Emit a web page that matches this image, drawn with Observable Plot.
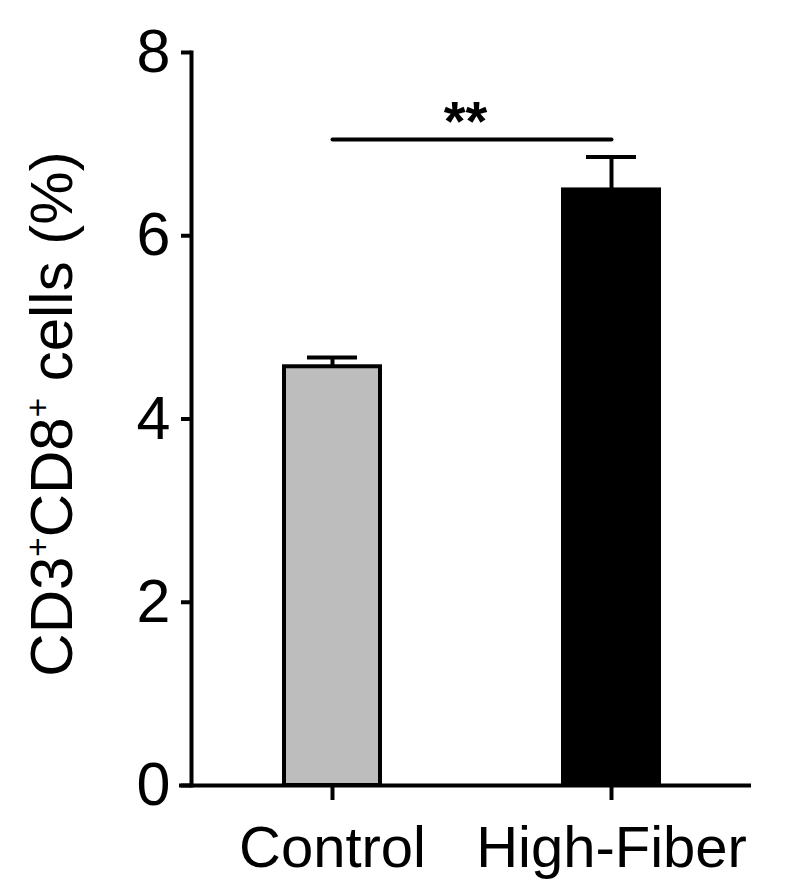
<!DOCTYPE html>
<html>
<head>
<meta charset="utf-8">
<script src="https://cdn.jsdelivr.net/npm/d3@7"></script>
<script src="https://cdn.jsdelivr.net/npm/@observablehq/plot@0.6"></script>
<style>
  html, body { margin: 0; padding: 0; background: #fff; }
  svg { display: block; overflow: visible; }
</style>
</head>
<body>
<div id="chart"></div>
<script>
const groups = ["Control", "High-Fiber"];
const means = [4.57, 6.50];
const sems = [0.10, 0.36];
const fills = ["#bdbdbd", "#000000"];
const yTicks = [0, 2, 4, 6, 8];
const sigValue = 7.05;
const sigLabel = "**";
const yLabel = "CD3+CD8+ cells (%)";

const data = groups.map((g, i) => ({group: g, mean: means[i], top: means[i] + sems[i], fill: fills[i]}));
const font = "'Liberation Sans', Arial, Helvetica, sans-serif";
const sw = 4;

const chart = Plot.plot({
  width: 792,
  height: 896,
  marginLeft: 191,
  marginRight: 41,
  marginTop: 52,
  marginBottom: 111,
  style: {fontFamily: font, background: "white", color: "black"},
  x: {domain: groups, paddingInner: 0.657, paddingOuter: 0.329, axis: null},
  y: {domain: [0, 8], axis: null},
  marks: [
    Plot.ruleX(data, {x: "group", y1: "mean", y2: "top", stroke: "black", strokeWidth: sw}),
    Plot.tickY(data, {x: "group", y: "top", stroke: "black", strokeWidth: sw, inset: 23}),
    Plot.barY(data, {x: "group", y: "mean", fill: "fill", stroke: "black", strokeWidth: sw}),
    Plot.frame({anchor: "left", stroke: "black", strokeWidth: sw}),
    Plot.ruleY([0], {stroke: "black", strokeWidth: sw, insetLeft: -12}),
    Plot.axisY(yTicks, {tickSize: 10, tickPadding: 11, fontSize: 61, strokeWidth: sw, label: null, tickFormat: d => String(d)}),
    Plot.axisX({tickSize: 15, tickPadding: 25, fontSize: 58, strokeWidth: sw, label: null}),
    Plot.link([{a: groups[0], b: groups[1], v: sigValue}], {x1: "a", x2: "b", y1: "v", y2: "v", stroke: "black", strokeWidth: sw, strokeLinecap: "round"}),
    Plot.text([{g: groups[0], v: sigValue, t: sigLabel}], {x: "g", y: "v", text: "t", dx: 133, dy: 0, lineAnchor: "bottom", fontSize: 56, fontWeight: "bold", fill: "black"}),
    Plot.text([yLabel], {frameAnchor: "left", rotate: -90, dx: -120, dy: -5, lineAnchor: "bottom", textAnchor: "middle", fontSize: 60, fill: "black"})
  ]
});

document.getElementById("chart").appendChild(chart);

// superscripts in y label
const NS = "http://www.w3.org/2000/svg";
for (const lab of chart.querySelectorAll("text")) {
  if (lab.textContent !== yLabel) continue;
  while (lab.firstChild) lab.removeChild(lab.firstChild);
  const parts = [["CD3", false], ["+", true], ["CD8", false], ["+", true], [" cells (%)", false]];
  let first = true;
  for (const [s, sup] of parts) {
    const t = document.createElementNS(NS, "tspan");
    t.textContent = s;
    if (sup) {
      t.setAttribute("font-size", "33");
      t.setAttribute("dy", "-23");
    } else if (!first) {
      t.setAttribute("dy", "23");
    }
    first = false;
    lab.appendChild(t);
  }
}
</script>
</body>
</html>
